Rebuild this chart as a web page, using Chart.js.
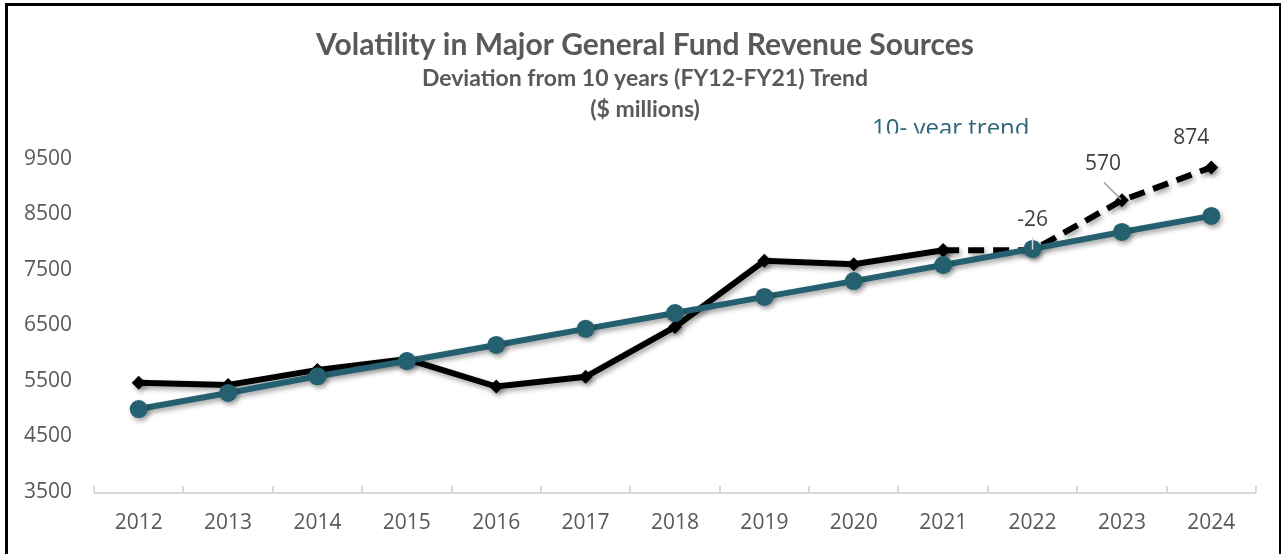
<!DOCTYPE html>
<html>
<head>
<meta charset="utf-8">
<script src="https://cdn.jsdelivr.net/npm/chart.js@4.4.1/dist/chart.umd.min.js"></script>
<style>
  body { margin: 0; background: #fff; }
  #wrap { position: relative; width: 1286px; height: 554px; overflow: hidden; }
  #frame { position: absolute; left: 5px; top: 3px; width: 1271px; height: 600px;
           border-top: 3px solid #000; border-left: 3px solid #000; border-right: 2px solid #000;
           pointer-events: none; }
</style>
</head>
<body>
<div id="wrap">
  <canvas id="myChart" width="1286" height="554"></canvas>
  <div id="frame"></div>
</div>
<script>
// data
const years = ['2012', '2013', '2014', '2015', '2016', '2017', '2018', '2019', '2020', '2021', '2022', '2023', '2024'];
const trendValues = [4995, 5285, 5585, 5860, 6150, 6440, 6725, 7015, 7300, 7590, 7880, 8185, 8475];
const actualValues = [5470, 5430, 5700, 5895, 5400, 5575, 6475, 7665, 7605, 7855, null, null, null];
const forecastValues = [null, null, null, null, null, null, null, null, null, 7855, 7854, 8755, 9349];
const deviationYears = ['2022', '2023', '2024'];
const deviationLabels = ['-26', '570', '874'];
const yTickValues = [3500, 4500, 5500, 6500, 7500, 8500, 9500];
const titleText = 'Volatility in Major General Fund Revenue Sources';
const subtitleLines = ['Deviation from 10 years (FY12-FY21) Trend', '($ millions)'];
const trendLabel = '10- year trend';

const teal = '#24606F';
const textGrey = '#595959';

// title block, centred a bit right of the plot like in the original
const titlePlugin = {
    id: 'titles',
    afterDraw(chart) {
        const ctx = chart.ctx;
        ctx.save();
        ctx.fillStyle = textGrey;
        ctx.textAlign = 'center';
        ctx.textBaseline = 'middle';
        ctx.font = 'bold 30px Lato';
        ctx.fillText(titleText, 645, 45);
        ctx.font = 'bold 23px Lato';
        ctx.fillText(subtitleLines[0], 645, 79);
        ctx.fillText(subtitleLines[1], 645, 110);
        ctx.restore();
    }
};

// soft drop shadow under the lines and markers
const shadowPlugin = {
    id: 'shadow',
    beforeDatasetsDraw(chart) {
        const ctx = chart.ctx;
        ctx.save();
        ctx.shadowColor = 'rgba(0,0,0,0.35)';
        ctx.shadowBlur = 5;
        ctx.shadowOffsetX = 2;
        ctx.shadowOffsetY = 3;
    },
    afterDatasetsDraw(chart) {
        chart.ctx.restore();
    }
};

// axis line with the little tick marks between categories
const axisPlugin = {
    id: 'axisLine',
    beforeDatasetsDraw(chart) {
        const { ctx, scales: { x, y } } = chart;
        const yb = y.bottom + 1;
        ctx.save();
        ctx.strokeStyle = '#d9d9d9';
        ctx.lineWidth = 2;
        ctx.beginPath();
        ctx.moveTo(x.left, yb);
        ctx.lineTo(x.right, yb);
        for (let i = 0; i <= years.length; i++) {
            const px = Math.round(x.getPixelForValue(i - 0.5));
            ctx.moveTo(px, yb);
            ctx.lineTo(px, yb - 7);
        }
        ctx.stroke();
        ctx.restore();
    }
};

// deviation labels, leader lines and the clipped trend note
const notesPlugin = {
    id: 'notes',
    afterDatasetsDraw(chart) {
        const { ctx, scales: { x, y } } = chart;
        const offsets = [[0, -30], [-19, -36], [-20, -29]];
        ctx.save();

        // leader lines
        const p22 = [x.getPixelForValue(years.indexOf('2022')), y.getPixelForValue(forecastValues[years.indexOf('2022')])];
        ctx.strokeStyle = '#d9d9d9';
        ctx.lineWidth = 1.5;
        ctx.beginPath();
        ctx.moveTo(p22[0], p22[1] - 13);
        ctx.lineTo(p22[0], p22[1] - 1);
        ctx.stroke();

        const p23 = [x.getPixelForValue(years.indexOf('2023')), y.getPixelForValue(forecastValues[years.indexOf('2023')])];
        ctx.strokeStyle = '#a6a6a6';
        ctx.beginPath();
        ctx.moveTo(p23[0] - 18, p23[1] - 18);
        ctx.lineTo(p23[0] - 1, p23[1] - 1);
        ctx.stroke();

        ctx.fillStyle = '#404040';
        ctx.font = '21px "Open Sans"';
        ctx.textAlign = 'center';
        ctx.textBaseline = 'middle';
        deviationYears.forEach((yr, i) => {
            const idx = years.indexOf(yr);
            const px = x.getPixelForValue(idx);
            const py = y.getPixelForValue(forecastValues[idx]);
            ctx.fillText(deviationLabels[i], px + offsets[i][0], py + offsets[i][1]);
        });

        // the "10- year trend" note is cut off at its bottom in the original
        ctx.beginPath();
        ctx.rect(860, 100, 200, 33.5);
        ctx.clip();
        ctx.fillStyle = '#2B6577';
        ctx.font = '24px "Open Sans"';
        ctx.textAlign = 'left';
        ctx.textBaseline = 'alphabetic';
        ctx.fillText(trendLabel, 872, 135.5);
        ctx.restore();
    }
};

const ctx = document.getElementById('myChart').getContext('2d');
const myChart = new Chart(ctx, {
    type: 'line',
    data: {
        labels: years,
        datasets: [{
            label: '10-year trend',
            data: trendValues,
            borderColor: teal,
            backgroundColor: teal,
            borderWidth: 6,
            pointRadius: 9,
            pointBorderWidth: 0,
            pointBackgroundColor: teal,
            tension: 0,
            clip: false
        }, {
            label: 'Actual',
            data: actualValues,
            borderColor: '#000',
            backgroundColor: '#000',
            borderWidth: 6,
            pointStyle: 'rectRot',
            pointRadius: 7,
            pointBorderWidth: 0,
            pointBackgroundColor: '#000',
            tension: 0,
            clip: false
        }, {
            label: 'Projected',
            data: forecastValues,
            borderColor: '#000',
            backgroundColor: '#000',
            borderWidth: 6,
            borderDash: [16, 9],
            pointStyle: 'rectRot',
            pointRadius: 7,
            pointBorderWidth: 0,
            pointBackgroundColor: '#000',
            tension: 0,
            clip: false
        }]
    },
    options: {
        responsive: false,
        animation: false,
        layout: { padding: { left: 0, right: 30, top: 159, bottom: 0 } },
        plugins: {
            legend: { display: false },
            tooltip: { enabled: false },
            title: { display: false }
        },
        scales: {
            x: {
                offset: true,
                grid: { display: false, drawTicks: false },
                border: { display: false },
                ticks: {
                    color: textGrey,
                    font: { family: 'Open Sans', size: 21 },
                    padding: 18,
                    maxRotation: 0,
                    autoSkip: false
                },
                afterFit(scale) { scale.height = 62; }
            },
            y: {
                min: 3500,
                max: 9500,
                grid: { display: false, drawTicks: false },
                border: { display: false },
                ticks: {
                    color: textGrey,
                    font: { family: 'Open Sans', size: 21 },
                    padding: 22,
                    callback: (v) => String(v)
                },
                afterBuildTicks(scale) {
                    scale.ticks = yTickValues.map(v => ({ value: v }));
                },
                afterFit(scale) { scale.width = 94; }
            }
        }
    },
    plugins: [axisPlugin, shadowPlugin, notesPlugin, titlePlugin]
});
</script>
</body>
</html>
